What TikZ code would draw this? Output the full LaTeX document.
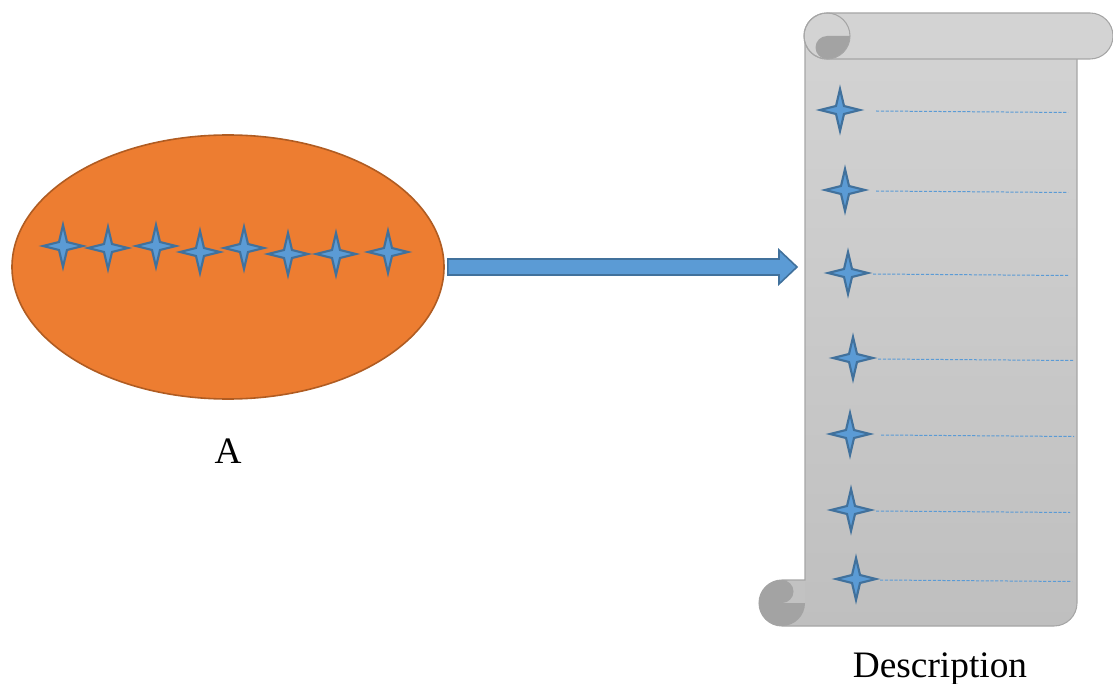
\documentclass[tikz,border=0pt]{standalone}
\usepackage{fontspec}
\setmainfont{Liberation Serif}
\usetikzlibrary{shapes.geometric, calc}

\definecolor{setorange}{HTML}{ED7D31}
\definecolor{setedge}{HTML}{B05C22}
\definecolor{starfill}{HTML}{5B9BD5}
\definecolor{staredge}{HTML}{41719C}
\definecolor{paperlight}{HTML}{D3D3D3}
\definecolor{paperdark}{HTML}{BFBFBF}
\definecolor{paperedge}{HTML}{A6A6A6}
\definecolor{paperfold}{HTML}{A3A3A3}

\tikzset{
  sparkle/.pic = {\draw[fill = starfill, draw = staredge, line width = 1.6pt] (0,-21) -- (4,-4) -- (20,0) -- (4,4) -- (0,21) -- (-4,4) -- (-20,0) -- (-4,-4) -- cycle;},
  entry line/.style = {draw = starfill, line width = 0.75pt, dash pattern = on 2.4pt off 1.2pt},
  paper/.style = {draw = paperedge, line width = 0.8pt},
  big label/.style = {font = \fontsize{28pt}{32pt}\selectfont, anchor = base, inner sep = 0pt}
}

\begin{document}
\begin{tikzpicture}[x = 0.75pt, y = -0.75pt]

\useasboundingbox (0,0) rectangle (1113,684);

%%% Set A
\node [ellipse, fill = setorange, draw = setedge, line width = 1.2pt, minimum width = 324pt, minimum height = 198pt, inner sep = 0pt] (setA) at (228,267) {};

\foreach \x/\y in {63/246, 108/248, 156/246, 200/252, 244/248, 288/254, 336/254, 388/252}
  \pic at (\x,\y) {sparkle};

\node [big label] (labelA) at (228,463) {A};

%%% Scroll
\path[paper, top color = paperlight, bottom color = paperdark] (805,36) -- (805,580) -- (782,580) arc[start angle = -90, end angle = -270, radius = 23] -- (1054,626) arc[start angle = 90, end angle = 0, radius = 23] -- (1077,36) -- cycle;

% bottom curl
\fill[paperfold] (782,603) circle[radius = 23];
\fill[paperdark!95!white] (782,581) rectangle (804.6,603);
\fill[paperfold] (782,580) arc[start angle = -90, end angle = 90, radius = 11.5] -- cycle;

% top roll
\draw[paper, fill = paperlight] (827,13) -- (1090,13) arc[start angle = -90, end angle = 90, radius = 23] -- (827,59) arc[start angle = 90, end angle = 270, radius = 23] -- cycle;
\fill[paperfold] (850,36) arc[start angle = 0, end angle = 90, radius = 23] arc[start angle = 90, end angle = 270, radius = 11.5] -- cycle;
\draw[paper] (827,36) circle[radius = 23];

%%% Entries
\foreach \x/\y/\s/\e in {840/110/876/1068, 845/190/876/1068, 848/273/873/1068, 853/358/878/1074, 850/434/881/1074, 851/510/876/1070, 856/579/880/1072}
{
  \draw[entry line] (\s,{\y+1}) -- (\e,{\y+2.5});
  \pic at (\x,\y) {sparkle};
}

\node [big label] (labelDesc) at (940,677) {Description};

%%% Arrow
\coordinate (tail) at ($(setA.east) + (3,0)$);
\coordinate (tip) at (797,267);
\draw[draw = staredge, fill = starfill, line width = 1.2pt] ($(tail) + (0,-8)$) -- ($(tip) + (-18,-8)$) -- ($(tip) + (-18,-17)$) -- (tip) -- ($(tip) + (-18,17)$) -- ($(tip) + (-18,8)$) -- ($(tail) + (0,8)$) -- cycle;

\end{tikzpicture}
\end{document}
